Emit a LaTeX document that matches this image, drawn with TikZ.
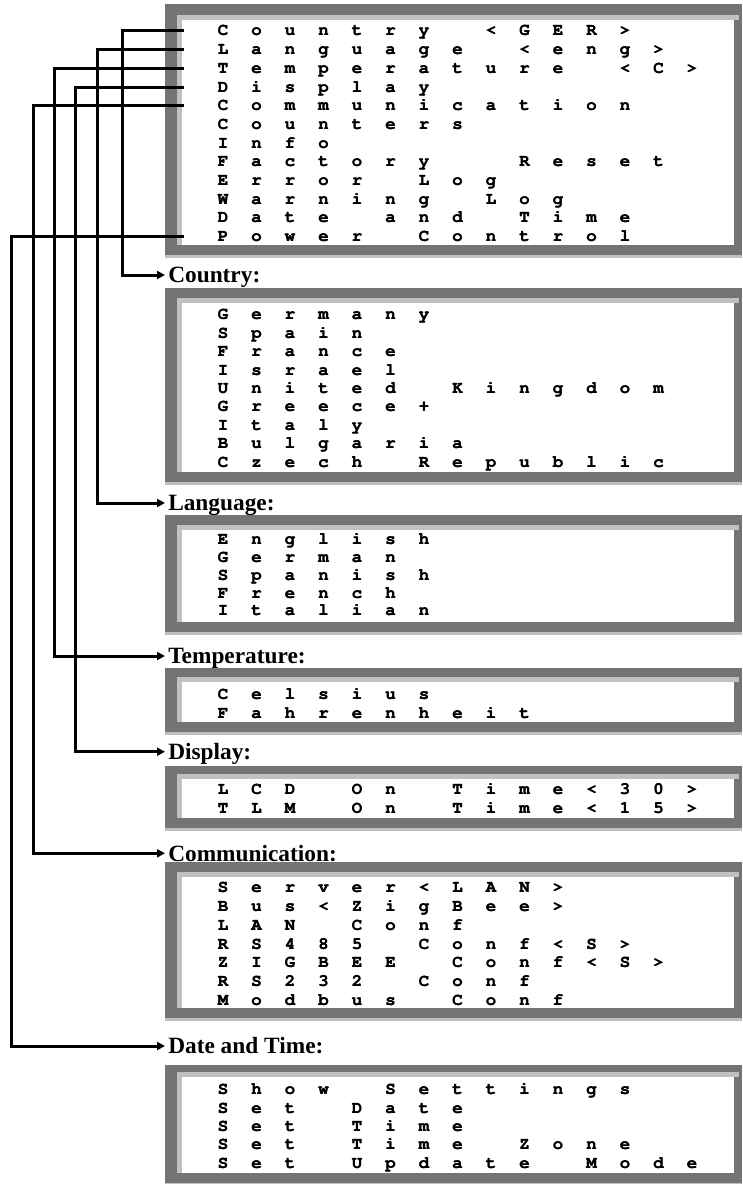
\documentclass[tikz,border=0pt]{standalone}
\usepackage[T1]{fontenc}
\usepackage{fontspec}
\setmainfont{Liberation Serif}
\usetikzlibrary{arrows.meta}
\definecolor{framegray}{HTML}{747474}
\definecolor{bevelgray}{HTML}{C0C0C0}
\newlength\lcdpitch \setlength\lcdpitch{25.125pt}
\newcommand\lcdfont{\fontencoding{T1}\fontfamily{pcr}\fontseries{b}\fontshape{n}\fontsize{13}{15}\selectfont}
% one fixed-width cell per character, ~ gives an extra blank cell
\ExplSyntaxOn
\cs_new_protected:Npn \lcd_cells:n #1
  {
    \str_map_inline:nn {#1}
      {
        \str_if_eq:eeTF {##1} { \c_tilde_str }
          { \hbox_to_wd:nn { \lcdpitch } { \hfil } }
          { \hbox_to_wd:nn { \lcdpitch } { \hfil \rlap{##1} \kern 0.3pt ##1 \hfil } }
      }
  }
\cs_generate_variant:Nn \lcd_cells:n { o }
\NewDocumentCommand \lcdrow { m } { \lcd_cells:o {#1} }
\ExplSyntaxOff
\tikzset{lcd/.style={font=\lcdfont,anchor=west,inner xsep=16.5pt,inner ysep=0pt,text height=7.4pt,text depth=0pt},
  head/.style={font=\bfseries\fontsize{17.5}{20}\selectfont,anchor=west,inner xsep=2.25pt,inner ysep=0pt,text height=11.6pt,text depth=0pt},
  conn/.style={line width=2.25pt,-{Triangle[length=6pt,width=6pt]}}}

\begin{document}
\begin{tikzpicture}[x=0.75pt,y=-0.75pt]
\useasboundingbox (0,0) rectangle (742,1184);
% display frames: outer top / white top / white bottom
\foreach \T/\W/\B in {4/20/245,288/303/472,515/530/622,668/682/722,766/779/818,862/877/1008,1065/1077/1173}{
 \fill[framegray] (165,\T) rectangle (742,\B+10);
 \fill[bevelgray] (165,\B+10) rectangle (742,\B+13);
 \fill[bevelgray] (176.7,\W-5) rectangle (739,\W);
 \fill[bevelgray] (176.7,\W-5) rectangle (181.7,\B);
 \fill[white] (181.7,\W) rectangle (734,\B);
}
% main menu
\foreach \t [count=\i] in {Country <GER>,Language <eng>,Temperature <C>,Display,Communication,Counters,Info,Factory~~Reset,Error Log,Warning Log,Date and Time,Power Control}
 \node[lcd] (menu\i) at (184,{31+18.7*(\i-1)}) {\lcdrow{\t}};
% sub menus
\node[head] (hcountry) at (165,275) {Country:};
\foreach \t [count=\i] in {Germany,Spain,France,Israel,United Kingdom,Greece+,Italy,Bulgaria,Czech Republic}
 \node[lcd] (country\i) at (184,{315+18.4*(\i-1)}) {\lcdrow{\t}};
\node[head] (hlang) at (165,503) {Language:};
\foreach \t [count=\i] in {English,German,Spanish,French,Italian}
 \node[lcd] (lang\i) at (184,{540+17.7*(\i-1)}) {\lcdrow{\t}};
\node[head] (htemp) at (165,656) {Temperature:};
\foreach \t [count=\i] in {Celsius,Fahrenheit}
 \node[lcd] (temp\i) at (184,{695+18.3*(\i-1)}) {\lcdrow{\t}};
\node[head] (hdisp) at (165,751.7) {Display:};
\foreach \t [count=\i] in {LCD On Time<30>,TLM On Time<15>}
 \node[lcd] (disp\i) at (184,{790+18.3*(\i-1)}) {\lcdrow{\t}};
\node[head] (hcomm) at (165,853.3) {Communication:};
\foreach \t [count=\i] in {Server<LAN>,Bus<ZigBee>,LAN Conf,RS485 Conf<S>,ZIGBEE Conf<S>,RS232 Conf,Modbus Conf}
 \node[lcd] (comm\i) at (184,{888+18.7*(\i-1)}) {\lcdrow{\t}};
\node[head] (hdate) at (165,1046) {Date and Time:};
\foreach \t [count=\i] in {Show Settings,Set Date,Set Time,Set Time Zone,Set Update Mode}
 \node[lcd] (date\i) at (184,{1090+18.3*(\i-1)}) {\lcdrow{\t}};
% links
\draw[conn] (menu1.west) -- ++(-61.3,0) |- (hcountry.west);
\draw[conn] (menu2.west) -- ++(-86.3,0) |- (hlang.west);
\draw[conn] (menu3.west) -- ++(-130,0) |- (htemp.west);
\draw[conn] (menu4.west) -- ++(-109,0) |- (hdisp.west);
\draw[conn] (menu5.west) -- ++(-150.7,0) |- (hcomm.west);
\draw[conn] (menu12.west) -- ++(-172.3,0) |- (hdate.west);
\end{tikzpicture}
\end{document}
